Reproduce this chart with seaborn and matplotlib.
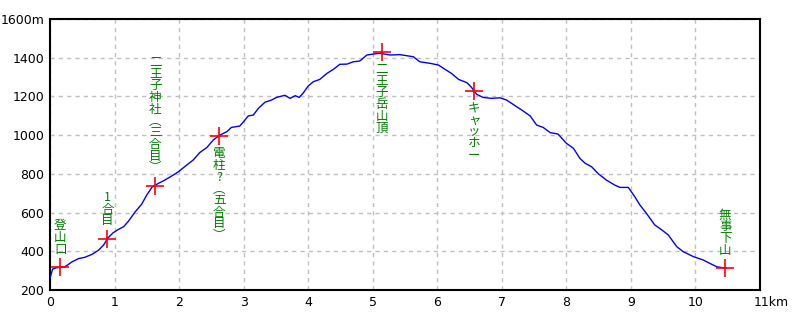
import matplotlib
matplotlib.use("Agg")
import matplotlib.pyplot as plt
import matplotlib.transforms as mtransforms
import seaborn as sns
import pandas as pd

# Elevation profile (distance km, elevation m)
dist_km = [0.00, 0.04, 0.10, 0.23, 0.34, 0.44, 0.54, 0.65, 0.75, 0.83, 0.90, 0.98,
           1.06, 1.14, 1.21, 1.32, 1.42, 1.50, 1.58, 1.68, 1.78, 1.91, 1.99,
           2.12, 2.22, 2.32, 2.43, 2.53, 2.63, 2.74, 2.81, 2.94, 3.02, 3.07,
           3.15, 3.23, 3.33, 3.43, 3.51, 3.64, 3.72, 3.80, 3.86, 3.92, 4.00,
           4.08, 4.18, 4.29, 4.39, 4.49, 4.60, 4.70, 4.80, 4.91, 5.01, 5.11,
           5.27, 5.42, 5.63, 5.73, 5.89, 6.02, 6.12, 6.22, 6.33, 6.46, 6.53,
           6.61, 6.71, 6.84, 6.97, 7.07, 7.23, 7.33, 7.44, 7.54, 7.64, 7.75,
           7.87, 8.00, 8.11, 8.21, 8.29, 8.39, 8.50, 8.62, 8.75, 8.83, 8.96,
           9.06, 9.14, 9.24, 9.37, 9.48, 9.58, 9.71, 9.81, 9.97, 10.12, 10.22,
           10.33, 10.48]
elev_m = [260, 308, 315, 320, 345, 362, 369, 384, 405, 432, 470, 496,
          513, 527, 553, 604, 643, 691, 731, 751, 768, 794, 811,
          846, 872, 910, 936, 975, 1000, 1018, 1040, 1047, 1078, 1099,
          1104, 1139, 1170, 1181, 1195, 1206, 1190, 1204, 1195, 1216, 1254,
          1276, 1288, 1319, 1340, 1366, 1367, 1379, 1383, 1414, 1419, 1423,
          1414, 1416, 1405, 1379, 1371, 1362, 1340, 1319, 1288, 1271, 1247,
          1211, 1195, 1190, 1193, 1182, 1147, 1125, 1099, 1052, 1040, 1013,
          1006, 958, 932, 880, 855, 837, 799, 768, 742, 730, 730,
          682, 639, 596, 536, 510, 484, 424, 398, 372, 355, 338,
          320, 312]

# Waypoints
wp_names = ["登山口", "1合目", "二王子神社︵三合目︶", "電柱?︵五合目︶",
            "二王子岳山頂", "キャッホー", "無事下山"]
wp_km = [0.16, 0.89, 1.63, 2.62, 5.14, 6.57, 10.46]
wp_m = [317, 463, 737, 995, 1431, 1228, 312]
wp_above = [True, True, True, False, False, False, True]

x_ticks = [0, 1, 2, 3, 4, 5, 6, 7, 8, 9, 10, 11]
x_labels = ["0", "1", "2", "3", "4", "5", "6", "7", "8", "9", "10", "11km"]
y_ticks = [200, 400, 600, 800, 1000, 1200, 1400, 1600]
y_labels = ["200", "400", "600", "800", "1000", "1200", "1400", "1600m"]

sns.set_style("white")
plt.rcParams["font.family"] = ["Liberation Sans Narrow", "DejaVu Sans"]

fig, ax = plt.subplots(figsize=(8, 3.2), dpi=100)
fig.subplots_adjust(left=0.0625, right=0.95, top=0.9406, bottom=0.09375)

prof = pd.DataFrame({"km": dist_km, "m": elev_m})
sns.lineplot(data=prof, x="km", y="m", ax=ax, color="#0000ff", linewidth=1,
             estimator=None, sort=False, zorder=3)

wp = pd.DataFrame({"km": wp_km, "m": wp_m})
sns.scatterplot(data=wp, x="km", y="m", ax=ax, marker="+", s=160,
                color="#ff0000", linewidth=1.2, zorder=4)

cjk = ["Noto Sans CJK JP", "DejaVu Sans"]
for name, xk, ym, above in zip(wp_names, wp_km, wp_m, wp_above):
    txt = "\n".join(list(name))
    if above:
        ax.annotate(txt, (xk, ym), xytext=(0, 8.5), textcoords="offset points",
                    ha="center", va="bottom", color="#008000", fontsize=9,
                    linespacing=0.87, family=cjk, zorder=5)
    else:
        ax.annotate(txt, (xk, ym), xytext=(0, -8), textcoords="offset points",
                    ha="center", va="top", color="#008000", fontsize=9,
                    linespacing=0.87, family=cjk, zorder=5)

ax.set_xlim(0, 11)
ax.set_ylim(200, 1600)
ax.set_xticks(x_ticks)
ax.set_xticklabels(x_labels)
ax.set_yticks(y_ticks)
ax.set_yticklabels(y_labels)
ax.tick_params(axis="both", length=0, labelsize=9, pad=4, colors="black")
ax.set_xlabel("")
ax.set_ylabel("")
ax.grid(True, color="#c0c0c0", linestyle=(0, (3, 3)), linewidth=1)
ax.set_axisbelow(True)
for sp in ax.spines.values():
    sp.set_color("black")
    sp.set_linewidth(1.5)
    sp.set_visible(True)

last = ax.get_xticklabels()[-1]
last.set_horizontalalignment("left")
last.set_transform(last.get_transform() +
                   mtransforms.ScaledTranslation(-6 / 100, 0, fig.dpi_scale_trans))

fig.savefig("out.png", dpi=100)
